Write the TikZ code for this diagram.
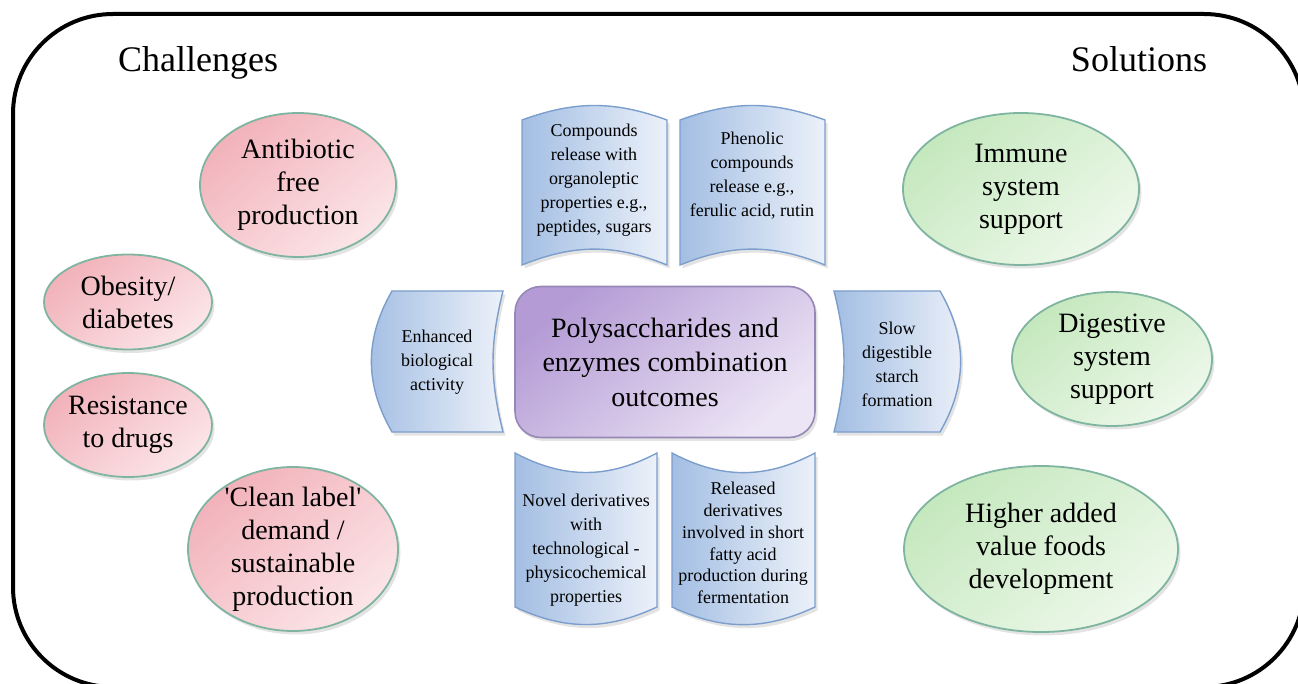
\documentclass[tikz,border=0pt]{standalone}
\usepackage{fontspec}
\setmainfont{Liberation Serif}
\usetikzlibrary{shapes.geometric,calc,shadows,backgrounds}
\definecolor{ringteal}{RGB}{127,181,160}
\definecolor{pinkdeep}{RGB}{242,178,186}
\definecolor{pinklight}{RGB}{251,229,232}
\definecolor{greendeep}{RGB}{197,232,190}
\definecolor{greenlight}{RGB}{237,248,234}
\definecolor{bluedeep}{RGB}{163,190,227}
\definecolor{bluelight}{RGB}{236,241,249}
\definecolor{blueedge}{RGB}{124,158,204}
\definecolor{violetdeep}{RGB}{180,155,213}
\definecolor{violetlight}{RGB}{236,229,245}
\definecolor{violetedge}{RGB}{150,136,182}
\tikzset{
  softshadow/.style={drop shadow={opacity=0.22,shadow xshift=2.5pt,shadow yshift=-3.5pt}},
  challenge/.style={ellipse, draw=ringteal, line width=1.8pt, top color=pinkdeep,
    bottom color=pinklight, shading angle=40, softshadow, align=center,
    inner xsep=-8pt, inner ysep=-14pt, font=\fontsize{28}{33}\selectfont},
  solution/.style={challenge, top color=greendeep, bottom color=greenlight, shading angle=40},
  piece/.style={draw=blueedge, line width=1.4pt, left color=bluedeep, right color=bluelight, softshadow},
  piecetext/.style={align=center, font=\fontsize{18}{24}\selectfont},
  titletext/.style={anchor=base, font=\fontsize{36}{40}\selectfont},
}
\begin{document}
\begin{tikzpicture}[x=1pt,y=-1pt]
  \useasboundingbox (0,0) rectangle (1298,684);
  % outer frame
  \draw[line width=4pt, rounded corners=100pt] (13,14) rectangle (1304,687);
  \node[titletext] (chal) at (198,72) {Challenges};
  \node[titletext] (solu) at (1139,72) {Solutions};

  % challenges
  \node[challenge, minimum width=196pt, minimum height=144pt] (antib) at (298,185) {Antibiotic\\free\\production};
  \node[challenge, minimum width=168pt, minimum height=95pt] (obes) at (128,302) {Obesity/\\diabetes};
  \node[challenge, minimum width=168pt, minimum height=104pt] (resist) at (128,425) {Resistance\\to drugs};
  \node[challenge, minimum width=210pt, minimum height=164pt] (clean) at (293,549)
    {\textquotesingle Clean label\textquotesingle\\demand /\\sustainable\\production};

  % solutions
  \node[solution, minimum width=236pt, minimum height=152pt] (immune) at (1021,189) {Immune\\system\\support};
  \node[solution, minimum width=200pt, minimum height=134pt] (digest) at (1112,359) {Digestive\\system\\support};
  \node[solution, minimum width=274pt, minimum height=166pt] (valuef) at (1041,549) {Higher added\\value foods\\development};

  % centre
  \node[draw=violetedge, line width=1.6pt, rounded corners=26pt, top color=violetdeep,
    bottom color=violetlight, shading angle=40, softshadow, minimum width=300pt,
    minimum height=151pt, align=center, font=\fontsize{28}{34.5}\selectfont] (core) at (665,362)
    {Polysaccharides and\\enzymes combination\\outcomes};

  % outcome pieces
  \node[piecetext] (organo) at (594,180) {Compounds\\release with\\organoleptic\\properties e.g.,\\peptides, sugars};
  \node[piecetext] (phenol) at (752,176) {Phenolic\\compounds\\release e.g.,\\ferulic acid, rutin};
  \node[piecetext] (novel) at (586,550) {Novel derivatives\\with\\technological -\\physicochemical\\properties};
  \node[piecetext, font=\fontsize{18}{21.8}\selectfont] (fatty) at (743,543) {Released\\derivatives\\involved in short\\fatty acid\\production during\\fermentation};
  \node[piecetext] (bioact) at (437,362) {Enhanced\\biological\\activity};
  \node[piecetext] (starch) at (897,364) {Slow\\digestible\\starch\\formation};

  \begin{scope}[on background layer]
    \path[piece] ($(organo)+(-72,-60)$) to[bend left=20] ($(organo)+(73,-60)$) -- ($(organo)+(73,85)$)
      to[bend right=22] ($(organo)+(-72,85)$) -- cycle;
    \path[piece] ($(phenol)+(-72,-56)$) to[bend left=20] ($(phenol)+(73,-56)$) -- ($(phenol)+(73,89)$)
      to[bend right=22] ($(phenol)+(-72,89)$) -- cycle;
    \path[piece] ($(novel)+(-71,-97)$) to[bend right=28] ($(novel)+(71,-97)$) -- ($(novel)+(71,57)$)
      to[bend left=25] ($(novel)+(-71,57)$) -- cycle;
    \path[piece] ($(fatty)+(-71,-90)$) to[bend right=28] ($(fatty)+(72,-90)$) -- ($(fatty)+(72,64)$)
      to[bend left=25] ($(fatty)+(-71,64)$) -- cycle;
    \path[piece] ($(bioact)+(-45,-71)$) -- ($(bioact)+(66,-71)$) to[bend right=14] ($(bioact)+(66,70)$)
      -- ($(bioact)+(-45,70)$) to[bend left=30] cycle;
    \path[piece] ($(starch)+(-63,-73)$) -- ($(starch)+(43,-73)$) to[bend left=30] ($(starch)+(43,68)$)
      -- ($(starch)+(-63,68)$) to[bend right=14] cycle;
  \end{scope}
\end{tikzpicture}
\end{document}
